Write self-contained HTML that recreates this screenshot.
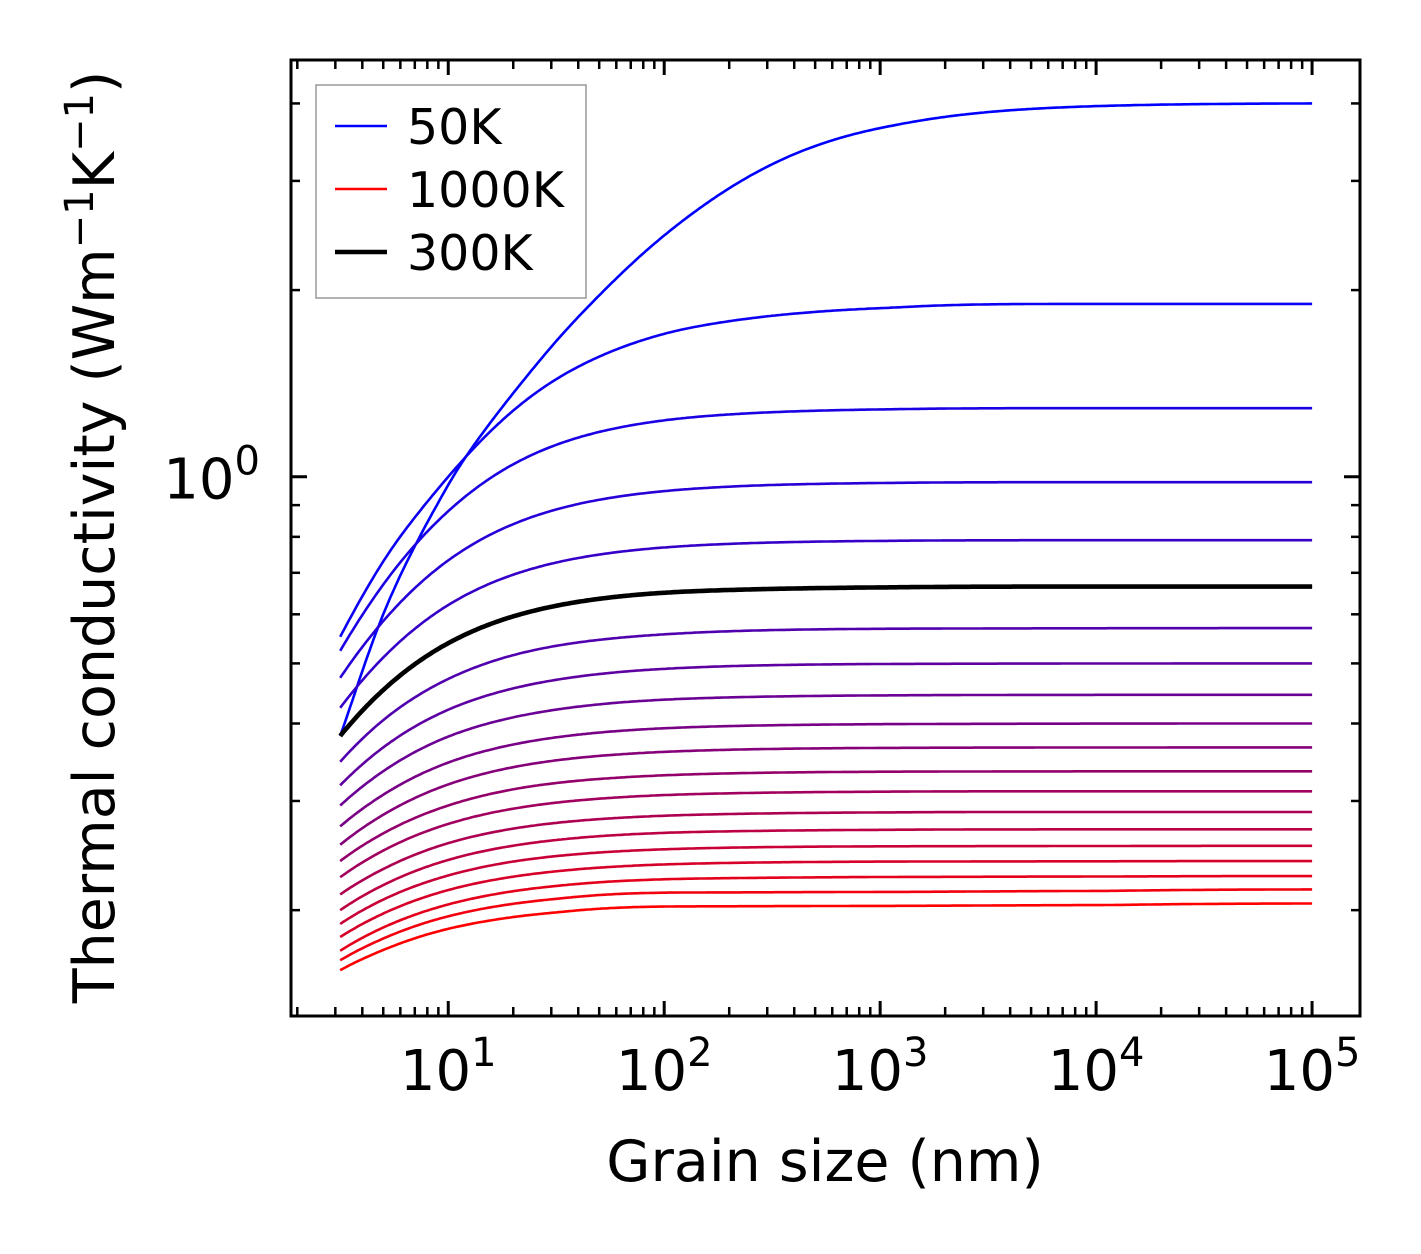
<!DOCTYPE html>
<html><head><meta charset="utf-8"><style>
html,body{margin:0;padding:0;background:#fff;}
svg{display:block;font-family:"DejaVu Sans","Liberation Sans",sans-serif;}
</style></head><body>
<svg id="chart" width="1421" height="1254" viewBox="0 0 1421 1254" xmlns="http://www.w3.org/2000/svg">
<g id="curves"></g>
<g id="axes"></g>
<g id="legend">
  <rect x="316" y="85" width="270" height="213" fill="#fff" fill-opacity="0.8" stroke="#999" stroke-width="1.5"/>
  <line x1="335" y1="126" x2="387" y2="126" stroke="#0000ff" stroke-width="2.5"/>
  <text x="407" y="144" font-size="49">50K</text>
  <line x1="335" y1="189" x2="387" y2="189" stroke="#ff0000" stroke-width="2.5"/>
  <text x="407" y="207" font-size="49">1000K</text>
  <line x1="335" y1="252" x2="387" y2="252" stroke="#000" stroke-width="4.5"/>
  <text x="407" y="270" font-size="49">300K</text>
</g>
<text x="825" y="1181" font-size="57" text-anchor="middle">Grain size (nm)</text>
<text transform="translate(114,537) rotate(-90)" font-size="57" text-anchor="middle">Thermal conductivity (Wm<tspan dy="-21" font-size="40">−1</tspan><tspan dy="21">K</tspan><tspan dy="-21" font-size="40">−1</tspan><tspan dy="21">)</tspan></text>
</svg>
<script>
// grain sizes (nm) at which values were read
const grainSizes = [3.16, 5, 10, 30, 100, 1000, 10000, 100000];
const temps = ['50K','100K','150K','200K','250K','300K','350K','400K','450K','500K','550K','600K','650K','700K','750K','800K','850K','900K','950K','1000K'];
const k50 = [0.382,0.60,0.97,1.62,2.45,3.65,3.96,4.0];
const k100 = [0.552,0.73,1.0,1.42,1.70,1.87,1.90,1.90];
const k150 = [0.524,0.67,0.88,1.118,1.233,1.284,1.29,1.29];
const k200 = [0.474,0.585,0.733,0.881,0.948,0.977,0.98,0.98];
const k250 = [0.424,0.511,0.621,0.724,0.769,0.788,0.79,0.79];
const k300 = [0.382,0.453,0.539,0.617,0.650,0.663,0.665,0.665];
const k350 = [0.347,0.405,0.472,0.532,0.557,0.5686,0.5697,0.57];
const k400 = [0.318,0.366,0.421,0.469,0.490,0.4989,0.4998,0.50];
const k450 = [0.295,0.335,0.381,0.420,0.437,0.444,0.4449,0.445];
const k500 = [0.273,0.307,0.346,0.379,0.393,0.399,0.3998,0.40];
const k550 = [0.255,0.285,0.319,0.348,0.360,0.3653,0.3659,0.366];
const k600 = [0.240,0.266,0.295,0.320,0.330,0.3344,0.3349,0.335];
const k650 = [0.226,0.2495,0.2755,0.2975,0.3066,0.3105,0.311,0.311];
const k700 = [0.212,0.233,0.2565,0.276,0.284,0.2875,0.288,0.288];
const k750 = [0.200,0.2195,0.241,0.259,0.2665,0.2695,0.270,0.270];
const k800 = [0.190,0.208,0.2275,0.244,0.2507,0.2535,0.2538,0.254];
const k850 = [0.181,0.1975,0.2155,0.2306,0.237,0.2395,0.2398,0.240];
const k900 = [0.172,0.1875,0.2043,0.2184,0.2243,0.2262,0.2266,0.227];
const k950 = [0.166,0.180,0.1955,0.2082,0.2134,0.214,0.2148,0.216];
const k1000 = [0.160,0.1725,0.1866,0.198,0.2027,0.2032,0.2038,0.205];
const k300highlight = [0.382,0.453,0.539,0.617,0.650,0.663,0.665,0.665];
const xTickLabels = ['1','2','3','4','5'];
const yTickLabel = '0';

const seriesList = [k50,k100,k150,k200,k250,k300,k350,k400,k450,k500,k550,k600,k650,k700,k750,k800,k850,k900,k950,k1000];

const NS = 'http://www.w3.org/2000/svg';
const L = 291, R = 1360, T = 60, B = 1016;
const xMin = Math.log10(1.87), xMax = 5.222;
const yMin = Math.log10(0.135), yMax = Math.log10(4.7);
function xs(d){ return L + (Math.log10(d) - xMin) / (xMax - xMin) * (R - L); }
function ys(k){ return B - (Math.log10(k) - yMin) / (yMax - yMin) * (B - T); }

function mk(tag, attrs, parent){
  const e = document.createElementNS(NS, tag);
  for (const a in attrs) e.setAttribute(a, attrs[a]);
  parent.appendChild(e);
  return e;
}

// Monotone (Fritsch-Carlson) interpolation of 1/k versus 1/d
function makeInterp(ds, ks){
  const idx = ds.map((_, i) => i).reverse();
  const U = idx.map(i => 1/ds[i]), V = idx.map(i => 1/ks[i]), n = U.length;
  const h = [], dl = [], m = [];
  for (let i=0;i<n-1;i++){ h.push(U[i+1]-U[i]); dl.push((V[i+1]-V[i])/h[i]); }
  m[0] = dl[0]; m[n-1] = dl[n-2];
  for (let i=1;i<n-1;i++){
    if (dl[i-1]*dl[i] <= 0) { m[i] = 0; continue; }
    const w1 = 2*h[i]+h[i-1], w2 = h[i]+2*h[i-1];
    m[i] = (w1+w2)/(w1/dl[i-1] + w2/dl[i]);
  }
  return function(d){
    const u = 1/d;
    let i = 0;
    while (i < n-2 && u > U[i+1]) i++;
    const hh = h[i], t = Math.min(1, Math.max(0, (u-U[i])/hh)), t2=t*t, t3=t2*t;
    const v = (2*t3-3*t2+1)*V[i] + (t3-2*t2+t)*hh*m[i] + (-2*t3+3*t2)*V[i+1] + (t3-t2)*hh*m[i+1];
    return 1/v;
  };
}
function curvePath(ds, ks){
  const f = makeInterp(ds, ks);
  const a = Math.log10(ds[0]), b = Math.log10(ds[ds.length-1]);
  let p = '';
  const N = 400;
  for (let j=0;j<=N;j++){
    const d = Math.pow(10, a + (b-a)*j/N);
    p += (j ? 'L' : 'M') + xs(d).toFixed(1) + ',' + ys(f(d)).toFixed(1);
  }
  return p;
}

const cg = document.getElementById('curves');
seriesList.forEach((ks, i) => {
  const f = i / (seriesList.length - 1);
  const col = 'rgb(' + Math.round(255*f) + ',0,' + Math.round(255*(1-f)) + ')';
  const el = mk('path', {d: curvePath(grainSizes, ks), fill:'none', stroke: col, 'stroke-width': 2.6, 'stroke-linejoin':'round'}, cg);
  
  
});
const blk = mk('path', {d: curvePath(grainSizes, k300highlight), fill:'none', stroke:'#000', 'stroke-width': 4.6, 'stroke-linejoin':'round'}, cg);



const ag = document.getElementById('axes');
const frame = mk('rect', {x:L, y:T, width:R-L, height:B-T, fill:'none', stroke:'#000', 'stroke-width':3}, ag);



// x ticks
for (let e=0;e<=5;e++){
  for (let mm=1;mm<=9;mm++){
    const d = mm*Math.pow(10,e);
    const lv = Math.log10(d);
    if (lv < xMin || lv > xMax) continue;
    const x = xs(d), len = mm===1 ? 15 : 9, w = mm===1 ? 3 : 2.5;
    const t1 = mk('line', {x1:x, y1:B, x2:x, y2:B-len, stroke:'#000', 'stroke-width':w}, ag);
    
    
    const t2 = mk('line', {x1:x, y1:T, x2:x, y2:T+len, stroke:'#000', 'stroke-width':w}, ag);
    
    
  }
}
xTickLabels.forEach(lbl => {
  const x = xs(Math.pow(10, Number(lbl)));
  const t = mk('text', {x: x, y: 1090, 'font-size': 56, 'text-anchor':'middle'}, ag);
  
  
  t.innerHTML = '10<tspan dy="-24" font-size="40">' + lbl + '</tspan>';
});
// y ticks
for (let e=-1;e<=0;e++){
  for (let mm=1;mm<=9;mm++){
    const k = mm*Math.pow(10,e);
    const lv = Math.log10(k);
    if (lv < yMin || lv > yMax) continue;
    const y = ys(k), major = (mm===1 && e===0), len = major ? 16 : 9, w = major ? 3 : 2.5;
    const t1 = mk('line', {x1:L, y1:y, x2:L+len, y2:y, stroke:'#000', 'stroke-width':w}, ag);
    
    
    const t2 = mk('line', {x1:R, y1:y, x2:R-len, y2:y, stroke:'#000', 'stroke-width':w}, ag);
    
    
  }
}
const yl = mk('text', {x: 260, y: ys(1)+22, 'font-size':56, 'text-anchor':'end'}, ag);


yl.innerHTML = '10<tspan dy="-24" font-size="40">' + yTickLabel + '</tspan>';
</script>
</body></html>
